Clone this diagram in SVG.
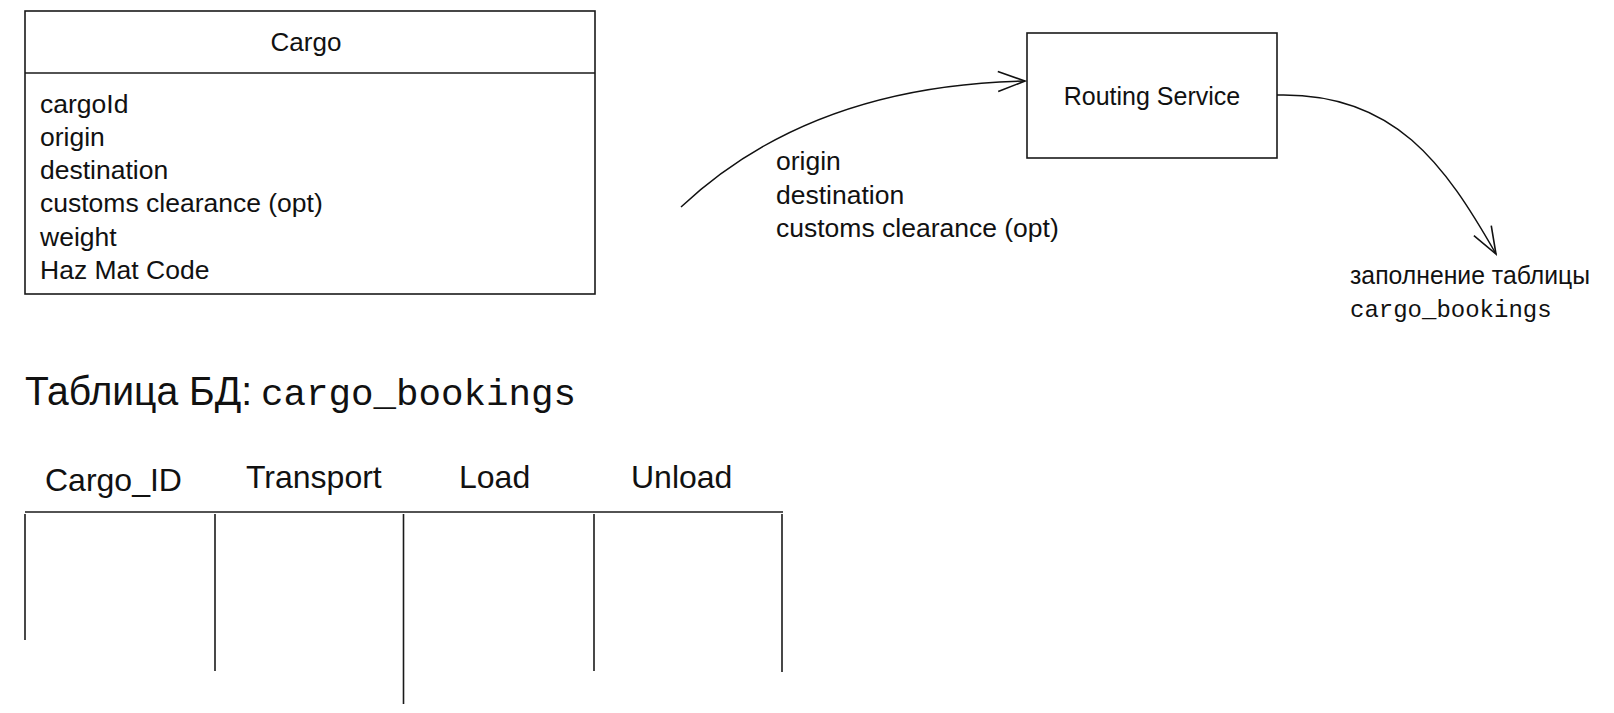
<svg xmlns="http://www.w3.org/2000/svg" width="1614" height="713" viewBox="0 0 1614 713">
  <style>
    .box { fill: #ffffff; stroke: #1a1a1a; stroke-width: 1.6; }
    .line { fill: none; stroke: #1a1a1a; stroke-width: 1.6; }
    .edge { fill: none; stroke: #111111; stroke-width: 1.5; }
    .t { font-family: "Liberation Sans", Arial, sans-serif; fill: #111111; }
    .m { font-family: "Liberation Mono", "Courier New", monospace; fill: #111111; }
  </style>
  <defs>
    <marker id="arr" markerUnits="userSpaceOnUse" markerWidth="32" markerHeight="26" viewBox="0 0 32 26" refX="29" refY="13" orient="auto">
      <path d="M2,3 L29,13 L2,23" fill="none" stroke="#111111" stroke-width="1.6"/>
    </marker>
  </defs>
  <rect width="1614" height="713" fill="#ffffff"/>

  <g id="cargo">
    <rect class="box" x="25" y="11" width="570" height="283"/>
    <line class="line" x1="25" y1="73" x2="595" y2="73"/>
    <text class="t" x="306" y="51" font-size="26" text-anchor="middle">Cargo</text>
    <g class="t" font-size="26.5">
      <text x="40" y="112.5">cargoId</text>
      <text x="40" y="145.8">origin</text>
      <text x="40" y="179">destination</text>
      <text x="40" y="212.4">customs clearance (opt)</text>
      <text x="40" y="245.7">weight</text>
      <text x="40" y="279">Haz Mat Code</text>
    </g>
  </g>

  <g id="routing-service">
    <rect class="box" x="1027" y="33" width="250" height="125"/>
    <text class="t" x="1152" y="105" font-size="25" text-anchor="middle">Routing Service</text>
  </g>

  <g id="connectors">
    <path class="edge" d="M681,207 C765,128 880,84 1025,81" marker-end="url(#arr)"/>
    <path class="edge" d="M1277,95 C1395,92 1445,165 1496,254" marker-end="url(#arr)"/>
  </g>

  <g id="input-label" class="t" font-size="26.5">
    <text x="776" y="170">origin</text>
    <text x="776" y="203.5">destination</text>
    <text x="776" y="237">customs clearance (opt)</text>
  </g>

  <g id="output-label">
    <text class="t" x="1350" y="284" font-size="25.5" textLength="240" lengthAdjust="spacingAndGlyphs">заполнение таблицы</text>
    <text class="m" x="1350" y="317" font-size="24">cargo_bookings</text>
  </g>

  <g id="table-title">
    <text class="t" x="25" y="405" font-size="41" textLength="227" lengthAdjust="spacingAndGlyphs">Таблица БД:</text>
    <text class="m" x="261" y="405" font-size="37.5">cargo_bookings</text>
  </g>

  <g id="table">
    <g class="t" font-size="32">
      <text x="45" y="491">Cargo_ID</text>
      <text x="246" y="488">Transport</text>
      <text x="459" y="488">Load</text>
      <text x="631" y="488">Unload</text>
    </g>
    <line class="line" x1="25" y1="512" x2="783" y2="512"/>
    <line class="line" x1="25" y1="514" x2="25" y2="640"/>
    <line class="line" x1="215" y1="514" x2="215" y2="671"/>
    <line class="line" x1="403.5" y1="514" x2="403.5" y2="704"/>
    <line class="line" x1="594" y1="514" x2="594" y2="671"/>
    <line class="line" x1="782" y1="514" x2="782" y2="672"/>
  </g>
</svg>
